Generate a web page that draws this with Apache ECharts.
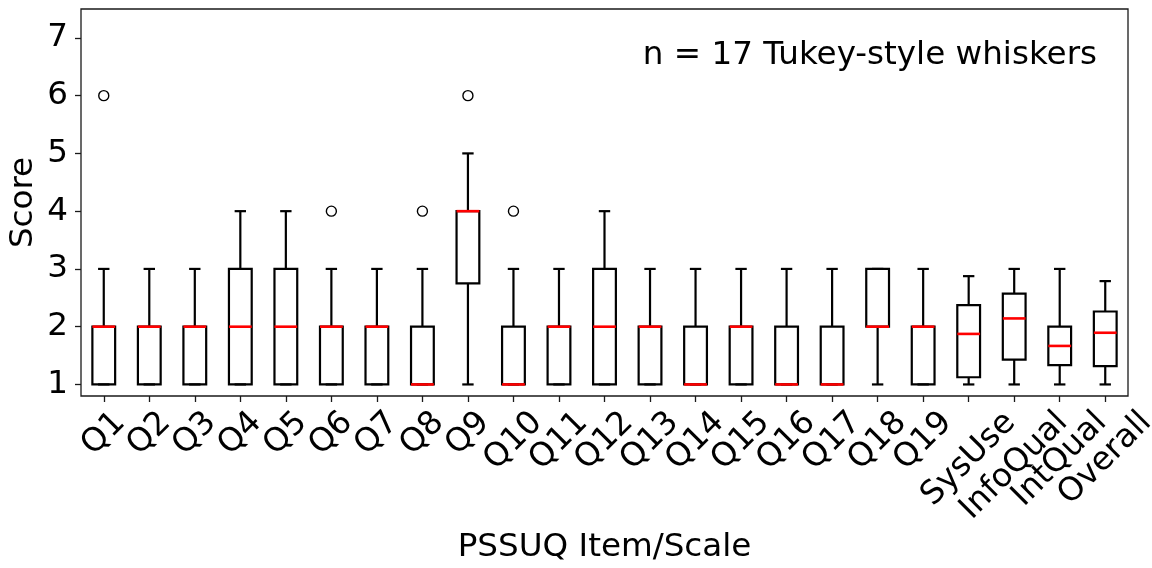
<!DOCTYPE html>
<html>
<head>
<meta charset="utf-8">
<script src="https://cdn.jsdelivr.net/npm/echarts@6/dist/echarts.min.js"></script>
<style>
  html, body { margin: 0; padding: 0; background: #fff; }
  #chart { width: 1152px; height: 568px; }
</style>
</head>
<body>
<div id="chart"></div>
<script>
// PSSUQ items and scales (n = 17), Tukey-style box plot summaries
const categories = ['Q1', 'Q2', 'Q3', 'Q4', 'Q5', 'Q6', 'Q7', 'Q8', 'Q9', 'Q10',
  'Q11', 'Q12', 'Q13', 'Q14', 'Q15', 'Q16', 'Q17', 'Q18', 'Q19',
  'SysUse', 'InfoQual', 'IntQual', 'Overall'];
const whiskerLow = [1, 1, 1, 1, 1, 1, 1, 1, 1, 1, 1, 1, 1, 1, 1, 1, 1, 1, 1, 1, 1, 1, 1];
const lowerQuartile = [1, 1, 1, 1, 1, 1, 1, 1, 2.75, 1, 1, 1, 1, 1, 1, 1, 1, 2, 1,
  1.125, 1.429, 1.333, 1.316];
const medians = [2, 2, 2, 2, 2, 2, 2, 1, 4, 1, 2, 2, 2, 1, 2, 1, 1, 2, 2,
  1.875, 2.143, 1.667, 1.895];
const upperQuartile = [2, 2, 2, 3, 3, 2, 2, 2, 4, 2, 2, 3, 2, 2, 2, 2, 2, 3, 2,
  2.375, 2.571, 2, 2.263];
const whiskerHigh = [3, 3, 3, 4, 4, 3, 3, 3, 5, 3, 3, 4, 3, 3, 3, 3, 3, 3, 3,
  2.875, 3, 3, 2.789];
const outliers = [['Q1', 6], ['Q6', 4], ['Q8', 4], ['Q9', 6], ['Q10', 4]];
const yTicks = [1, 2, 3, 4, 5, 6, 7];

const FONT = 'DejaVu Sans';
const FS = 32.6;
const measureCtx = document.createElement('canvas').getContext('2d');
measureCtx.font = FS + 'px "' + FONT + '"';

const boxData = categories.map((c, i) => [i, whiskerLow[i], lowerQuartile[i],
  medians[i], upperQuartile[i], whiskerHigh[i]]);

function renderBox(params, api) {
  const cat = api.value(0);
  const x = api.coord([cat, 0])[0];
  const band = api.size([1, 0])[0];
  const y = k => api.coord([cat, api.value(k)])[1];
  const yLow = y(1), yQ1 = y(2), yMed = y(3), yQ3 = y(4), yHigh = y(5);
  const bw = band * 0.5, cw = band * 0.25;
  const ink = { stroke: '#000', lineWidth: 2.2, fill: null };
  return {
    type: 'group',
    children: [
      { type: 'line', shape: { x1: x, y1: yQ1, x2: x, y2: yLow }, style: ink },
      { type: 'line', shape: { x1: x, y1: yQ3, x2: x, y2: yHigh }, style: ink },
      { type: 'line', shape: { x1: x - cw / 2, y1: yLow, x2: x + cw / 2, y2: yLow }, style: ink },
      { type: 'line', shape: { x1: x - cw / 2, y1: yHigh, x2: x + cw / 2, y2: yHigh }, style: ink },
      { type: 'rect', shape: { x: x - bw / 2, y: yQ3, width: bw, height: yQ1 - yQ3 },
        style: { stroke: '#000', lineWidth: 2.2, fill: 'rgba(0,0,0,0)', lineJoin: 'miter' } },
      { type: 'line', shape: { x1: x - bw / 2, y1: yMed, x2: x + bw / 2, y2: yMed },
        style: { stroke: '#ff0000', lineWidth: 2.6 } }
    ]
  };
}

// Rotated tick labels: the rotated text's bounding box is centred on the tick
function renderTickLabel(params, api) {
  const cat = api.value(0);
  const text = categories[cat];
  const x = api.coord([cat, 0.8])[0];
  const axisY = api.coord([cat, 0.8])[1];
  const w = measureCtx.measureText(text).width;
  const h = FS;
  const half = (w + h) / (2 * Math.SQRT2);
  return {
    type: 'text',
    x: x,
    y: axisY + 10 + half,
    rotation: Math.PI / 4,
    style: {
      text: text, fontSize: FS, fontFamily: FONT, fill: '#000',
      align: 'center', verticalAlign: 'middle'
    }
  };
}

const chart = echarts.init(document.getElementById('chart'), null, { renderer: 'canvas' });
chart.setOption({
  animation: false,
  backgroundColor: '#fff',
  textStyle: { fontFamily: FONT },
  grid: {
    left: 81, right: 24, top: 9, bottom: 172,
    outerBoundsMode: 'none',
    containLabel: false,
    show: true, borderColor: '#1a1a1a', borderWidth: 1.3, backgroundColor: 'rgba(0,0,0,0)'
  },
  xAxis: {
    type: 'category',
    data: categories,
    boundaryGap: true,
    axisLine: { show: false },
    axisTick: { show: true, alignWithLabel: true, interval: 0, length: 6,
      lineStyle: { color: '#1a1a1a', width: 1.3 } },
    axisLabel: { show: false, interval: 0 },
    splitLine: { show: false },
    name: 'PSSUQ Item/Scale',
    nameLocation: 'middle',
    nameGap: 135,
    nameMoveOverlap: false,
    nameTextStyle: { fontSize: FS, color: '#000', fontFamily: FONT }
  },
  yAxis: {
    type: 'value',
    min: 0.8,
    max: 7.5,
    axisLine: { show: false },
    axisTick: { show: true, customValues: yTicks, length: 6,
      lineStyle: { color: '#1a1a1a', width: 1.3 } },
    axisLabel: { customValues: yTicks, fontSize: FS, color: '#000', margin: 13, fontFamily: FONT },
    splitLine: { show: false }
  },
  graphic: [
    {
      type: 'text',
      x: 24,
      y: 202.5,
      rotation: Math.PI / 2,
      style: { text: 'Score', fontSize: FS, fontFamily: FONT, fill: '#000',
        align: 'center', verticalAlign: 'middle' }
    },
    {
      type: 'text',
      right: 55,
      top: 39,
      style: { text: 'n = 17 Tukey-style whiskers', fontSize: FS, fontFamily: FONT, fill: '#000' }
    }
  ],
  series: [
    {
      type: 'custom',
      name: 'boxes',
      renderItem: renderBox,
      encode: { x: 0, y: [1, 2, 3, 4, 5] },
      data: boxData,
      silent: true,
      z: 3
    },
    {
      type: 'scatter',
      name: 'outliers',
      data: outliers,
      symbol: 'circle',
      symbolSize: 10,
      itemStyle: { color: 'rgba(0,0,0,0)', borderColor: '#000', borderWidth: 1.4, opacity: 1 },
      silent: true,
      z: 4
    },
    {
      type: 'custom',
      name: 'tickLabels',
      renderItem: renderTickLabel,
      encode: { x: 0 },
      data: categories.map((c, i) => [i]),
      clip: false,
      silent: true,
      z: 5
    }
  ]
});
</script>
</body>
</html>
